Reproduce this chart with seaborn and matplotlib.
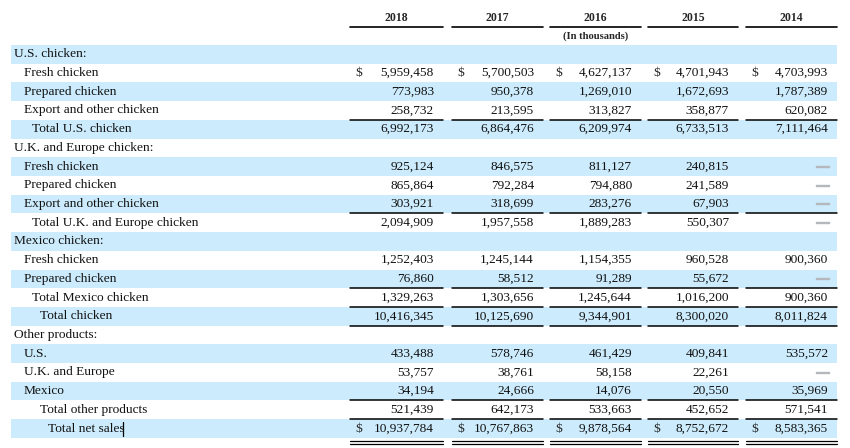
import numpy as np
import pandas as pd
import matplotlib
matplotlib.use("Agg")
import matplotlib.pyplot as plt
import matplotlib.patheffects as pe
import seaborn as sns

sns.set_theme(style="white")
plt.rcParams['font.family'] = ['Liberation Serif', 'DejaVu Serif']

### Data ###

years = ["2018", "2017", "2016", "2015", "2014"]

labels = ["U.S. chicken:", "Fresh chicken", "Prepared chicken", "Export and other chicken",
          "Total U.S. chicken",
          "U.K. and Europe chicken:", "Fresh chicken", "Prepared chicken", "Export and other chicken",
          "Total U.K. and Europe chicken",
          "Mexico chicken:", "Fresh chicken", "Prepared chicken", "Total Mexico chicken",
          "Total chicken",
          "Other products:", "U.S.", "U.K. and Europe", "Mexico", "Total other products",
          "Total net sales"]
indent = [0, 1, 1, 1, 2, 0, 1, 1, 1, 2, 0, 1, 1, 2, 3, 0, 1, 1, 1, 3, 4]

nan = np.nan
v2018 = [nan, 5959458, 773983, 258732, 6992173, nan, 925124, 865864, 303921, 2094909,
         nan, 1252403, 76860, 1329263, 10416345, nan, 433488, 53757, 34194, 521439, 10937784]
v2017 = [nan, 5700503, 950378, 213595, 6864476, nan, 846575, 792284, 318699, 1957558,
         nan, 1245144, 58512, 1303656, 10125690, nan, 578746, 38761, 24666, 642173, 10767863]
v2016 = [nan, 4627137, 1269010, 313827, 6209974, nan, 811127, 794880, 283276, 1889283,
         nan, 1154355, 91289, 1245644, 9344901, nan, 461429, 58158, 14076, 533663, 9878564]
v2015 = [nan, 4701943, 1672693, 358877, 6733513, nan, 240815, 241589, 67903, 550307,
         nan, 960528, 55672, 1016200, 8300020, nan, 409841, 22261, 20550, 452652, 8752672]
v2014 = [nan, 4703993, 1787389, 620082, 7111464, nan, nan, nan, nan, nan,
         nan, 900360, nan, 900360, 8011824, nan, 535572, nan, 35969, 571541, 8583365]

header_rows = [0, 5, 10, 15]
dollar_rows = [1, 20]
line_above = [4, 9, 13, 14, 19, 20]
line_below = [14]

df = pd.DataFrame({"label": labels, "2018": v2018, "2017": v2017, "2016": v2016,
                   "2015": v2015, "2014": v2014})

### Layout (pixel units) ###

W, H = 850, 448
top, row_h = 45, 18.71
col_l = [350, 452, 550, 648, 746]
col_r = [443, 543, 641, 738, 837]
band_l, band_r = 11, 837
x_indent = [14, 24, 32, 40, 48]
blue = "#CCECFD"
fs = 9.6

fig = plt.figure(figsize=(W / 100, H / 100), dpi=100)
ax = fig.add_axes([0, 0, 1, 1])
ax.set_xlim(0, W)
ax.set_ylim(H, 0)
ax.axis("off")

def ytop(i):
    return top + i * row_h

# row bands
for i in range(len(df)):
    if i % 2 == 0:
        ax.axhspan(ytop(i), ytop(i + 1), xmin=band_l / W, xmax=band_r / W,
                   color=blue, lw=0, zorder=0)

# header
for j, yr in enumerate(years):
    ax.text((col_l[j] + col_r[j]) / 2, 18, yr, ha="center", va="center",
            fontsize=8.5, fontweight="bold")
    ax.plot([col_l[j], col_r[j]], [27, 27], color="black", lw=1.2)
ax.text((col_l[2] + col_r[2]) / 2, 36.5, "(In thousands)", ha="center", va="center",
        fontsize=7.6, fontweight="bold")

# rows
dash_fx = [pe.withStroke(linewidth=1.0, foreground="#B4B8BC")]
for i, row in df.iterrows():
    yc = ytop(i) + row_h / 2
    ax.text(x_indent[indent[i]], yc, row["label"], ha="left", va="center",
            fontsize=fs, color="#111111")
    if i in header_rows:
        continue
    for j, yr in enumerate(years):
        v = row[yr]
        if np.isnan(v):
            ax.text(col_r[j] - 8, yc, "\u2014", ha="right", va="center",
                    fontsize=fs, fontweight="bold", color="#B4B8BC", path_effects=dash_fx)
        else:
            ax.text(col_r[j] - 9, yc, f"{int(v):,}", ha="right", va="center",
                    fontsize=fs, color="#111111")
        if i in dollar_rows:
            ax.text(col_l[j] + 5, yc, "$", ha="left", va="center", fontsize=fs)

# rules
for j in range(len(years)):
    for i in line_above:
        ax.plot([col_l[j], col_r[j]], [ytop(i), ytop(i)], color="black", lw=1.1)
    for i in line_below:
        ax.plot([col_l[j], col_r[j]], [ytop(i + 1), ytop(i + 1)], color="black", lw=1.1)
    yb = ytop(len(df))
    ax.plot([col_l[j], col_r[j]], [yb + 3.5, yb + 3.5], color="black", lw=0.9)
    ax.plot([col_l[j], col_r[j]], [yb + 6, yb + 6], color="black", lw=0.9)

# text cursor after the last label
ax.plot([123, 123], [ytop(20) + 3, ytop(21) - 2], color="black", lw=0.9)

fig.savefig("out.png", dpi=100)
